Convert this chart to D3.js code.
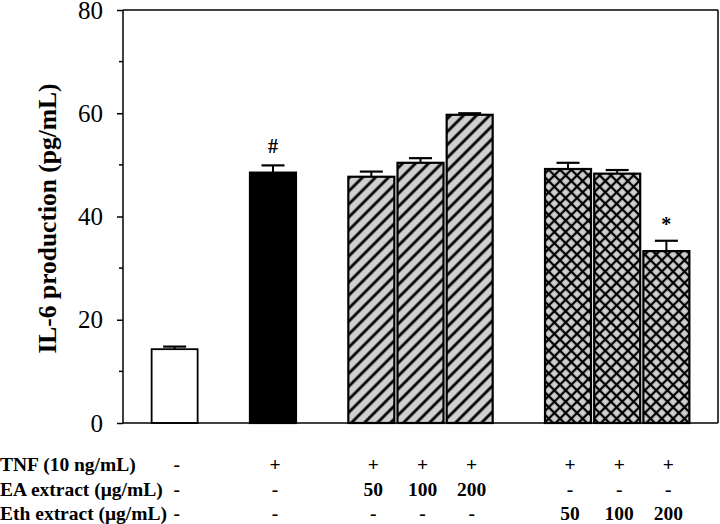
<!DOCTYPE html>
<html><head><meta charset="utf-8">
<script src="https://cdn.jsdelivr.net/npm/d3@7"></script>
<style>body{margin:0;background:#fff}svg{display:block}</style>
</head><body><svg id="c" width="720" height="524"></svg>
<script>
// data
const positions = [1, 3, 5, 6, 7, 9, 10, 11];
const means = [14.3, 48.5, 47.7, 50.4, 59.7, 49.2, 48.3, 33.3];
const errors = [0.5, 1.4, 1.0, 0.9, 0.3, 1.2, 0.7, 2.0];
const fills = ["white", "black", "hatch", "hatch", "hatch", "cross", "cross", "cross"];
const marks = ["", "#", "", "", "", "", "", "*"];
const rowLabels = ["TNF (10 ng/mL)", "EA extract (\u03bcg/mL)", "Eth extract (\u03bcg/mL)"];
const rowTNF = ["-", "+", "+", "+", "+", "+", "+", "+"];
const rowEA = ["-", "-", "50", "100", "200", "-", "-", "-"];
const rowEth = ["-", "-", "-", "-", "-", "50", "100", "200"];
const yTicks = [0, 20, 40, 60, 80];
const yMinor = [10, 30, 50, 70];

const svg = d3.select("#c");
const L = 123, R = 718, T = 10, B = 423;
const x = d3.scaleLinear().domain([-0.05, 12.05]).range([L, R]);
const y = d3.scaleLinear().domain([0, 80]).range([B, T]);
const bw = 46;
const serif = "'Liberation Serif','Times New Roman',serif";

const defs = svg.append("defs");
const hs = 9.2;
const ph = defs.append("pattern").attr("id", "hatch").attr("patternUnits", "userSpaceOnUse")
  .attr("width", hs).attr("height", hs).attr("patternTransform", "rotate(45)");
ph.append("rect").attr("width", hs).attr("height", hs).attr("fill", "#d0d0d0");
ph.append("line").attr("x1", hs / 2).attr("x2", hs / 2).attr("y1", -1).attr("y2", hs + 1).attr("stroke", "#000").attr("stroke-width", 2.8);
const cs = 8.0;
const pc = defs.append("pattern").attr("id", "cross").attr("patternUnits", "userSpaceOnUse")
  .attr("width", cs).attr("height", cs).attr("patternTransform", "rotate(45)");
pc.append("rect").attr("width", cs).attr("height", cs).attr("fill", "#d0d0d0");
pc.append("line").attr("x1", cs / 2).attr("x2", cs / 2).attr("y1", -1).attr("y2", cs + 1).attr("stroke", "#000").attr("stroke-width", 2.3);
pc.append("line").attr("y1", cs / 2).attr("y2", cs / 2).attr("x1", -1).attr("x2", cs + 1).attr("stroke", "#000").attr("stroke-width", 2.3);

// frame
svg.append("line").attr("x1", L).attr("x2", R).attr("y1", T).attr("y2", T).attr("stroke", "#000").attr("stroke-width", 1.5);
svg.append("line").attr("x1", R).attr("x2", R).attr("y1", T).attr("y2", B).attr("stroke", "#000").attr("stroke-width", 1.5);

const data = positions.map((p, i) => ({p, m: means[i], e: errors[i], f: fills[i], mk: marks[i]}));

// error bars
const eg = svg.append("g");
data.forEach(d => {
  eg.append("line").attr("x1", x(d.p)).attr("x2", x(d.p)).attr("y1", y(d.m)).attr("y2", y(d.m + d.e))
    .attr("stroke", "#000").attr("stroke-width", 2);
  eg.append("line").attr("x1", x(d.p) - 11.5).attr("x2", x(d.p) + 11.5).attr("y1", y(d.m + d.e)).attr("y2", y(d.m + d.e))
    .attr("stroke", "#000").attr("stroke-width", 2.2);
});

// bars
svg.append("g").selectAll("rect").data(data).join("rect")
  .attr("x", d => x(d.p) - bw / 2).attr("width", bw)
  .attr("y", d => y(d.m)).attr("height", d => y(0) - y(d.m))
  .attr("fill", d => d.f === "white" ? "#fff" : d.f === "black" ? "#000" : `url(#${d.f})`)
  .attr("stroke", "#000").attr("stroke-width", d => d.f === "white" ? 1.8 : 2.2);

// marks
svg.append("g").selectAll("text").data(data.filter(d => d.mk)).join("text")
  .attr("x", d => x(d.p)).attr("y", d => y(d.m + d.e) - (d.mk === "*" ? 10 : 12))
  .attr("text-anchor", "middle").attr("font-family", serif).attr("font-weight", "bold")
  .attr("font-size", 20).text(d => d.mk);

// axes
const ax = svg.append("g").attr("transform", `translate(${L},0)`)
  .call(d3.axisLeft(y).tickValues(yTicks).tickSize(6).tickPadding(14).tickFormat(d3.format("d")));
ax.select(".domain").attr("stroke-width", 1.5).attr("d", `M0,${T}V${B}`);
ax.selectAll(".tick line").attr("stroke-width", 1.5);
ax.selectAll("text").attr("font-family", serif).attr("font-size", 25).attr("fill", "#000");
svg.append("g").attr("transform", `translate(${L},0)`)
  .selectAll("line").data(yMinor).join("line")
  .attr("x1", -4).attr("x2", 0).attr("y1", d => y(d)).attr("y2", d => y(d)).attr("stroke", "#000").attr("stroke-width", 1.5);
svg.append("line").attr("x1", L).attr("x2", R).attr("y1", B).attr("y2", B).attr("stroke", "#000").attr("stroke-width", 1.5);

svg.append("text").attr("transform", `translate(56,${(T + B) / 2 + 2}) rotate(-90)`)
  .attr("text-anchor", "middle").attr("font-family", serif).attr("font-weight", "bold")
  .attr("font-size", 25.5).text("IL-6 production (pg/mL)");

// table
const rows = [rowTNF, rowEA, rowEth];
const rowY = [471, 496, 520];
rows.forEach((r, ri) => {
  svg.append("text").attr("x", 0).attr("y", rowY[ri]).attr("font-family", serif).attr("font-weight", "bold")
    .attr("font-size", 19.5).text(rowLabels[ri]);
  svg.append("g").selectAll("text").data(r).join("text")
    .attr("x", (d, i) => x(positions[i]) + 2).attr("y", rowY[ri])
    .attr("text-anchor", "middle").attr("font-family", serif).attr("font-weight", "bold")
    .attr("font-size", 19.5).text(d => d);
});
</script></body></html>
